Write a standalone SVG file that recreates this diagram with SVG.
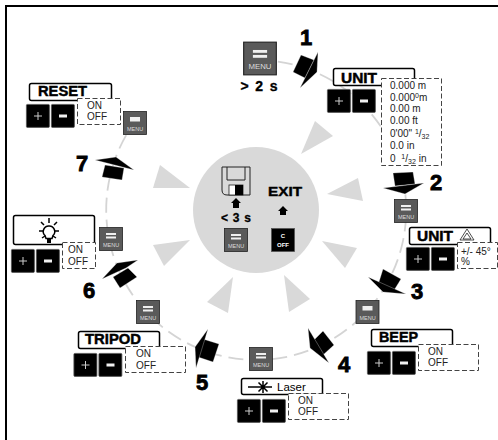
<svg xmlns="http://www.w3.org/2000/svg" width="498" height="440" viewBox="0 0 498 440">
<style>
text{font-family:"Liberation Sans",Arial,sans-serif;fill:#000}
.t{font-weight:700;font-size:14px;stroke:#000;stroke-width:.45}
.n{font-weight:700;font-size:22px;stroke:#000;stroke-width:.8;text-anchor:middle}
.o{font-size:10px;fill:#222}
.lab{fill:#fff;stroke:#000;stroke-width:1.5}
.dash{fill:#fff;stroke:#444;stroke-width:1;stroke-dasharray:5 2.500}
.k{fill:#000;stroke:#555;stroke-width:.8}
.m{fill:#5a5a5a;stroke:#222;stroke-width:.8}
.mt{fill:#ddd;font-size:5.500px;text-anchor:middle}
.b{fill:#f0f0f0}
.tri{fill:#d9d9d9}
.conn{fill:none;stroke:#d4d4d4;stroke-width:1.800;stroke-dasharray:15 7}
.ar{fill:#000;stroke:#fff;stroke-width:.3}
.up{fill:#000}
</style>
<defs>
<g id="menu"><rect class="m" x="-11.500" y="-11.500" width="23" height="23"/><rect class="b" x="-5" y="-6" width="10" height="2"/><rect class="b" x="-5" y="-2.500" width="10" height="2"/><text class="mt" y="7.500">MENU</text></g>
<g id="menu1"><rect class="m" x="-11.500" y="-11.500" width="23" height="23"/><rect class="b" x="-5" y="-6" width="10" height="4.500"/><text class="mt" y="7.500">MENU</text></g>
<g id="pm"><rect class="k" x=".4" y=".4" width="23" height="23" rx="1"/><rect class="k" x="25.400" y=".4" width="23" height="23" rx="1"/><path d="M12 8v8M8 12h8" stroke="#ccc" stroke-width="1" fill="none"/><rect x="33" y="10.500" width="8" height="3" fill="#f0f0f0"/></g>
</defs>
<rect width="498" height="440" fill="#fff"/>
<path d="M6 440V6H498" fill="none" stroke="#000" stroke-width="2"/>
<g id="connectors">
<path class="conn" d="M256 60A150 150 0 1 1 134 123"/>
</g>
<g id="hub">
<circle cx="256" cy="210" r="63" fill="#d9d9d9"/>
<path class="tri" d="M315 121L333 136L301 154Z"/>
<path class="tri" d="M358 178L363 201L327 194Z"/>
<path class="tri" d="M322 241L357 248L345 268Z"/>
<path class="tri" d="M284 275L310 299L289 312Z"/>
<path class="tri" d="M233 277L207 302L228 313Z"/>
<path class="tri" d="M190 240L153 245L164 266Z"/>
<path class="tri" d="M160 165L190 188L153 188Z"/>
<path d="M222 167H250V195H227Q222 195 222 190Z" fill="none" stroke="#222" stroke-width="1"/>
<path d="M227 167V180H245V167" fill="none" stroke="#222" stroke-width="1"/>
<rect x="229" y="185" width="14" height="10" fill="#fff" stroke="#222" stroke-width=".8"/><rect x="235" y="185" width="8" height="10" fill="#000"/>
<path class="up" d="M236 198L241 203H239V208H233V203H231Z"/>
<text x="236" y="222" font-size="12" font-weight="700" text-anchor="middle" textLength="30" stroke="#000" stroke-width=".3">&lt; 3 s</text>
<use href="#menu" x="236" y="240"/>
<text x="268" y="196" font-size="13" font-weight="700" textLength="34" lengthAdjust="spacingAndGlyphs" stroke="#000" stroke-width=".4">EXIT</text>
<path class="up" d="M283 206L288 211H286V215H280V211H278Z"/>
<rect class="k" x="271.500" y="228.500" width="23" height="23" stroke="#333"/>
<text x="283" y="238" font-size="6" font-weight="700" text-anchor="middle" style="fill:#fff">C</text>
<text x="283" y="247" font-size="6" font-weight="700" text-anchor="middle" style="fill:#fff">OFF</text>
</g>
<g id="start">
<g transform="translate(260 58.500) scale(1.420)"><rect class="m" x="-11.500" y="-11.500" width="23" height="23"/><rect class="b" x="-5" y="-6" width="10" height="2"/><rect class="b" x="-5" y="-2.500" width="10" height="2"/><text class="mt" y="7.500">MENU</text></g>
<text x="259" y="91" font-size="14" font-weight="700" text-anchor="middle" textLength="37" stroke="#000" stroke-width=".35">&gt; 2 s</text>
<path class="ar" d="M293 72L301 55L314 60L305 78Z"/>
<path class="ar" d="M318 52L300 88L317 72Z"/>
<text class="n" x="306" y="45">1</text>
</g>
<g id="unit"><rect class="lab" x="333.500" y="68.500" width="81" height="17" rx="2"/><text class="t" x="341" y="83" textLength="36" lengthAdjust="spacingAndGlyphs">UNIT</text><use href="#pm" x="327" y="89"/>
<rect class="dash" x="381.500" y="78.500" width="60" height="87"/>
<text class="o" x="390" y="89">0.000 m</text>
<text class="o" x="390" y="101">0.000<tspan font-size="7" dy="-3">0</tspan><tspan dy="3">m</tspan></text>
<text class="o" x="390" y="112">0.00 m</text>
<text class="o" x="390" y="124">0.00 ft</text>
<text class="o" x="390" y="137">0'00" <tspan font-size="7" dy="-3">1</tspan><tspan dy="3">/</tspan><tspan font-size="7" dy="2">32</tspan></text>
<text class="o" x="390" y="149">0.0 in</text>
<text class="o" x="390" y="162">0 <tspan font-size="7" dy="-3" dx="3">1</tspan><tspan dy="3">/</tspan><tspan font-size="7" dy="2">32</tspan><tspan dy="-2" dx="3">in</tspan></text></g>
<g id="step2"><path class="ar" d="M393 173L413 172L415 184L395 186Z"/><path class="ar" d="M383 188L424 183L405 194Z"/><text class="n" x="436" y="190">2</text><use href="#menu" x="406" y="211"/></g>
<g id="unit-tilt"><rect class="lab" x="409.500" y="227.500" width="81" height="17" rx="2"/><text class="t" x="417" y="241" textLength="36" lengthAdjust="spacingAndGlyphs">UNIT</text><path d="M460 240L467 229L474 240Z M467 233L471 239H463Z" fill="none" stroke="#222" stroke-width=".8"/><use href="#pm" x="406" y="247"/><rect class="dash" x="457.500" y="242.500" width="40" height="26"/><text class="o" x="461" y="255">+/- 45°</text><text class="o" x="461" y="265">%</text></g>
<g id="step3"><path class="ar" d="M383 269L401 279L393 292L378 285Z"/><path class="ar" d="M368 277L406 294L383 292Z"/><text class="n" x="417" y="299">3</text><use href="#menu1" x="367.500" y="312"/></g>
<g id="beep"><rect class="lab" x="371.500" y="329.500" width="81" height="17" rx="2"/><text class="t" x="379" y="342" textLength="39" lengthAdjust="spacingAndGlyphs">BEEP</text><use href="#pm" x="367" y="351"/><rect class="dash" x="418.500" y="344.500" width="60" height="26"/><text class="o" x="428" y="355">ON</text><text class="o" x="428" y="366">OFF</text></g>
<g id="step4"><path class="ar" d="M323 331L334 345L323 355L312 342Z"/><path class="ar" d="M308 328L329 363L310 348Z"/><text class="n" x="344" y="372">4</text><use href="#menu" x="261" y="359"/></g>
<g id="laser"><rect class="lab" x="241.500" y="378.500" width="81" height="16" rx="2"/><path d="M248 387H272M263 381V393M258.500 382.500L267.500 391.500M267.500 382.500L258.500 391.500" stroke="#000" stroke-width="1.500" fill="none"/><text x="277" y="391" font-size="11.500" fill="#222">Laser</text><use href="#pm" x="237" y="399"/><rect class="dash" x="288.500" y="393.500" width="60" height="26"/><text class="o" x="298" y="404">ON</text><text class="o" x="298" y="415">OFF</text></g>
<g id="step5"><path class="ar" d="M203 339L219 344L213 362L198 357Z"/><path class="ar" d="M208 329L196 368L195 347Z"/><text class="n" x="202" y="390">5</text></g>
<g id="tripod"><rect class="lab" x="78.500" y="331.500" width="81" height="17" rx="2"/><text class="t" x="85" y="344" textLength="56" lengthAdjust="spacingAndGlyphs">TRIPOD</text><use href="#pm" x="73.500" y="353"/><rect class="dash" x="125.500" y="346.500" width="60" height="26"/><text class="o" x="136" y="357">ON</text><text class="o" x="136" y="369">OFF</text><use href="#menu" x="148" y="312"/></g>
<g id="step6"><path class="ar" d="M113 277L128 268L137 277L120 288Z"/><path class="ar" d="M102 279L117 263L138 260L126 268Z"/><text class="n" x="89" y="298">6</text><use href="#menu" x="111" y="239"/></g>
<g id="bulb"><rect class="lab" x="13.500" y="215.500" width="81" height="29" rx="2"/><path d="M49 226a5.500 5.500 0 0 1 4 9.500l-1 3h-6l-1-3a5.500 5.500 0 0 1 4-9.500Z" fill="#fff" stroke="#000" stroke-width="1.500"/><rect x="47" y="238" width="4" height="5" fill="#000"/><path d="M49 218v5M41 222l3 3M57 222l-3 3M39 231h4M55 231h4M42 238l3-2M56 238l-3-2" stroke="#000" stroke-width="1.500"/><use href="#pm" x="11" y="249"/><rect class="dash" x="62.500" y="242.500" width="33" height="26"/><text class="o" x="68" y="253">ON</text><text class="o" x="68" y="265">OFF</text></g>
<g id="step7"><path class="ar" d="M105 165L124 168L122 180L102 177Z"/><path class="ar" d="M116 157L95 160L134 170Z"/><text class="n" x="82" y="171">7</text><use href="#menu1" x="135" y="123"/></g>
<g id="reset"><rect class="lab" x="29.500" y="83.500" width="82" height="17" rx="2"/><text class="t" x="38" y="96" textLength="49" lengthAdjust="spacingAndGlyphs">RESET</text><use href="#pm" x="26" y="104"/><rect class="dash" x="77.500" y="98.500" width="43" height="26"/><text class="o" x="87" y="109">ON</text><text class="o" x="87" y="120">OFF</text></g>
</svg>
